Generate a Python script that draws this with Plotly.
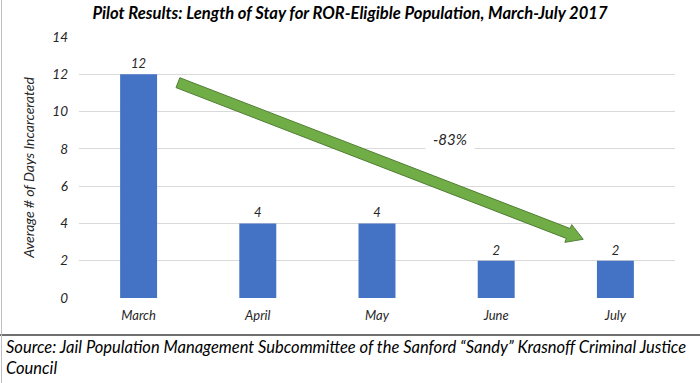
import plotly.graph_objects as go
import math

months = ["March", "April", "May", "June", "July"]
avg_days = [12, 4, 4, 2, 2]
y_ticks = [0, 2, 4, 6, 8, 10, 12, 14]
change_label = "-83%"
arrow_from = (0.33, 11.55)   # data coords (category index, days)
arrow_to = (3.73, 3.15)
label_pos = (2.61, 8.55)

title = "Pilot Results: Length of Stay for ROR-Eligible Population, March-July 2017"
y_title = "Average # of Days Incarcerated"
source = "Source: Jail Population Management Subcommittee of the Sanford \u201cSandy\u201d Krasnoff Criminal Justice<br>Council"

W, H = 700, 383
ML, MR, MT, MB = 79, 25, 37, 85
PW, PH = W - ML - MR, H - MT - MB
XR = (-0.5, 4.5)
YR = (0, 14)
FONT = "Lato"

xs = list(range(len(months)))

fig = go.Figure()
fig.add_trace(go.Bar(
    x=xs, y=avg_days, width=0.31,
    marker=dict(color="#4472C4", line=dict(width=0)),
    text=[str(v) for v in avg_days], textposition="outside",
    textfont=dict(family=FONT, size=13, color="#262626"),
    cliponaxis=False, hoverinfo="skip",
))

def to_px(x, y):
    return (ML + (x - XR[0]) / (XR[1] - XR[0]) * PW,
            MT + PH - (y - YR[0]) / (YR[1] - YR[0]) * PH)

def to_data(px, py):
    return (XR[0] + (px - ML) / PW * (XR[1] - XR[0]),
            YR[0] + (MT + PH - py) / PH * (YR[1] - YR[0]))

(ax, ay), (bx, by) = to_px(*arrow_from), to_px(*arrow_to)
dx, dy = bx - ax, by - ay
L = math.hypot(dx, dy)
ux, uy = dx / L, dy / L
nx, ny = -uy, ux
sw, hw, hl = 5.3, 9.5, 16
hx, hy = bx - ux * hl, by - uy * hl
pts = [
    (ax + nx * sw, ay + ny * sw),
    (hx + nx * sw, hy + ny * sw),
    (hx + nx * hw, hy + ny * hw),
    (bx, by),
    (hx - nx * hw, hy - ny * hw),
    (hx - nx * sw, hy - ny * sw),
    (ax - nx * sw, ay - ny * sw),
]
dpts = [to_data(*p) for p in pts]
path = "M " + " L ".join(f"{p[0]:.4f},{p[1]:.4f}" for p in dpts) + " Z"
fig.add_shape(type="path", path=path, xref="x", yref="y",
              fillcolor="#70AD47", line=dict(color="#507E32", width=1))

fig.add_annotation(x=label_pos[0], y=label_pos[1], text=change_label, showarrow=False,
                   font=dict(family=FONT, size=15, color="#262626"),
                   bgcolor="white", borderpad=7, xref="x", yref="y")

sep_y = (MT + PH - 335) / PH
fig.add_shape(type="line", xref="paper", yref="paper", x0=(0 - ML) / PW, x1=(W - ML) / PW,
              y0=sep_y, y1=sep_y, line=dict(color="#404040", width=1.5))
fig.add_shape(type="line", xref="paper", yref="paper", x0=(1.5 - ML) / PW, x1=(1.5 - ML) / PW,
              y0=(MT + PH) / PH, y1=(MT + PH - H) / PH, line=dict(color="#BFBFBF", width=1))

fig.add_annotation(xref="paper", yref="paper", x=(4 - ML) / PW, y=(MT + PH - 335) / PH,
                   xanchor="left", yanchor="top", align="left", showarrow=False,
                   text=source, font=dict(family=FONT, size=16.5, color="black"))

fig.update_layout(
    width=W, height=H, margin=dict(l=ML, r=MR, t=MT, b=MB),
    paper_bgcolor="white", plot_bgcolor="white", showlegend=False,
    title=dict(text=f"<b><i>{title}</i></b>", x=0.5, xref="container", xanchor="center",
               y=1 - 13 / H, yanchor="middle",
               font=dict(family=FONT, size=16.6, color="black")),
    font=dict(family=FONT, style="italic"),
    xaxis=dict(range=list(XR), tickvals=xs, ticktext=months, showgrid=False, zeroline=False,
               showline=False, ticks="", ticklabelstandoff=8,
               tickfont=dict(family=FONT, size=13, color="#262626", style="italic")),
    yaxis=dict(range=list(YR), tickvals=y_ticks, showgrid=True, gridcolor="#D9D9D9", gridwidth=1,
               zeroline=False, showline=False, ticks="", ticklabelstandoff=10,
               tickfont=dict(family=FONT, size=13.5, color="#262626", style="italic"),
               title=dict(text=y_title, standoff=14,
                          font=dict(family=FONT, size=14, color="#262626", style="italic"))),
)
fig.write_html("out.html", config={"displayModeBar": False},
               post_script="document.body.style.margin='0';document.body.style.overflow='hidden';")
